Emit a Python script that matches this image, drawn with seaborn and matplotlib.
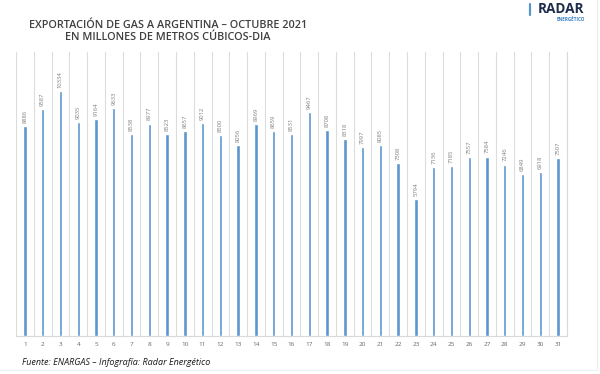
import numpy as np
import pandas as pd
import matplotlib
matplotlib.use("Agg")
import matplotlib.pyplot as plt
import seaborn as sns

days = list(range(1, 32))
values = [8886, 9587, 10334, 9035, 9164, 9633, 8538, 8977, 8523, 8657,
          9012, 8500, 8056, 8969, 8659, 8531, 9467, 8708, 8318, 7997,
          8085, 7308, 5794, 7136, 7185, 7557, 7584, 7246, 6849, 6918,
          7507]

df = pd.DataFrame({"Dia": [str(d) for d in days], "Valor": values})

sns.set_style("white")
plt.rcParams["font.family"] = ["Open Sans", "DejaVu Sans"]

fig = plt.figure(figsize=(6, 3.74), dpi=100)
ax = fig.add_axes([16 / 600, 1 - 336 / 374, (567 - 16) / 600, (336 - 52) / 374])

sns.barplot(data=df, x="Dia", y="Valor", color="#5B95CF", width=0.19,
            saturation=1, ax=ax)

ax.set_ylim(0, 12000)
ax.set_xlim(-0.5, len(days) - 0.5)

# separadores verticales entre categorias
for i in range(len(days) + 1):
    ax.axvline(i - 0.5, color="#dcdcdc", lw=0.8, zorder=0)

for i, v in enumerate(values):
    ax.text(i, v + 130, str(v), rotation=90, ha="center", va="bottom",
            fontsize=4.2, color="#7f7f7f")

ax.set_xlabel("")
ax.set_ylabel("")
ax.set_yticks([])
ax.tick_params(axis="x", length=0, labelsize=4.6, colors="#666666", pad=4)
for s in ["top", "left"]:
    ax.spines[s].set_visible(False)
for s in ["bottom", "right"]:
    ax.spines[s].set_color("#d9d9d9")
    ax.spines[s].set_linewidth(0.8)

fig.text(0.28, 0.933, "EXPORTACIÓN DE GAS A ARGENTINA – OCTUBRE 2021",
         ha="center", va="center", fontsize=7.8, fontweight="semibold", color="#404040")
fig.text(0.28, 0.901, "EN MILLONES DE METROS CÚBICOS-DIA",
         ha="center", va="center", fontsize=7.8, fontweight="semibold", color="#404040")

# logo
fig.add_artist(plt.Line2D([0.883, 0.883], [0.96, 0.99], color="#5B95CF", lw=1.6))
fig.text(0.896, 0.976, "RADAR", ha="left", va="center", fontsize=9.8,
         fontweight="bold", color="#1f2d4d")
fig.text(0.975, 0.949, "ENERGÉTICO", ha="right", va="center", fontsize=3.3,
         fontweight="bold", color="#3b82c4")

fig.text(0.037, 0.032, "Fuente: ENARGAS – Infografía: Radar Energético",
         ha="left", va="center", fontsize=6.5, style="italic", color="#1a1a1a")

# borde tenue de la imagen
fig.add_artist(plt.Line2D([0.995, 0.995], [0.01, 1.0], color="#eeeeee", lw=0.8))
fig.add_artist(plt.Line2D([0.0, 0.995], [0.01, 0.01], color="#eeeeee", lw=0.8))

fig.savefig("out.png", dpi=100)
